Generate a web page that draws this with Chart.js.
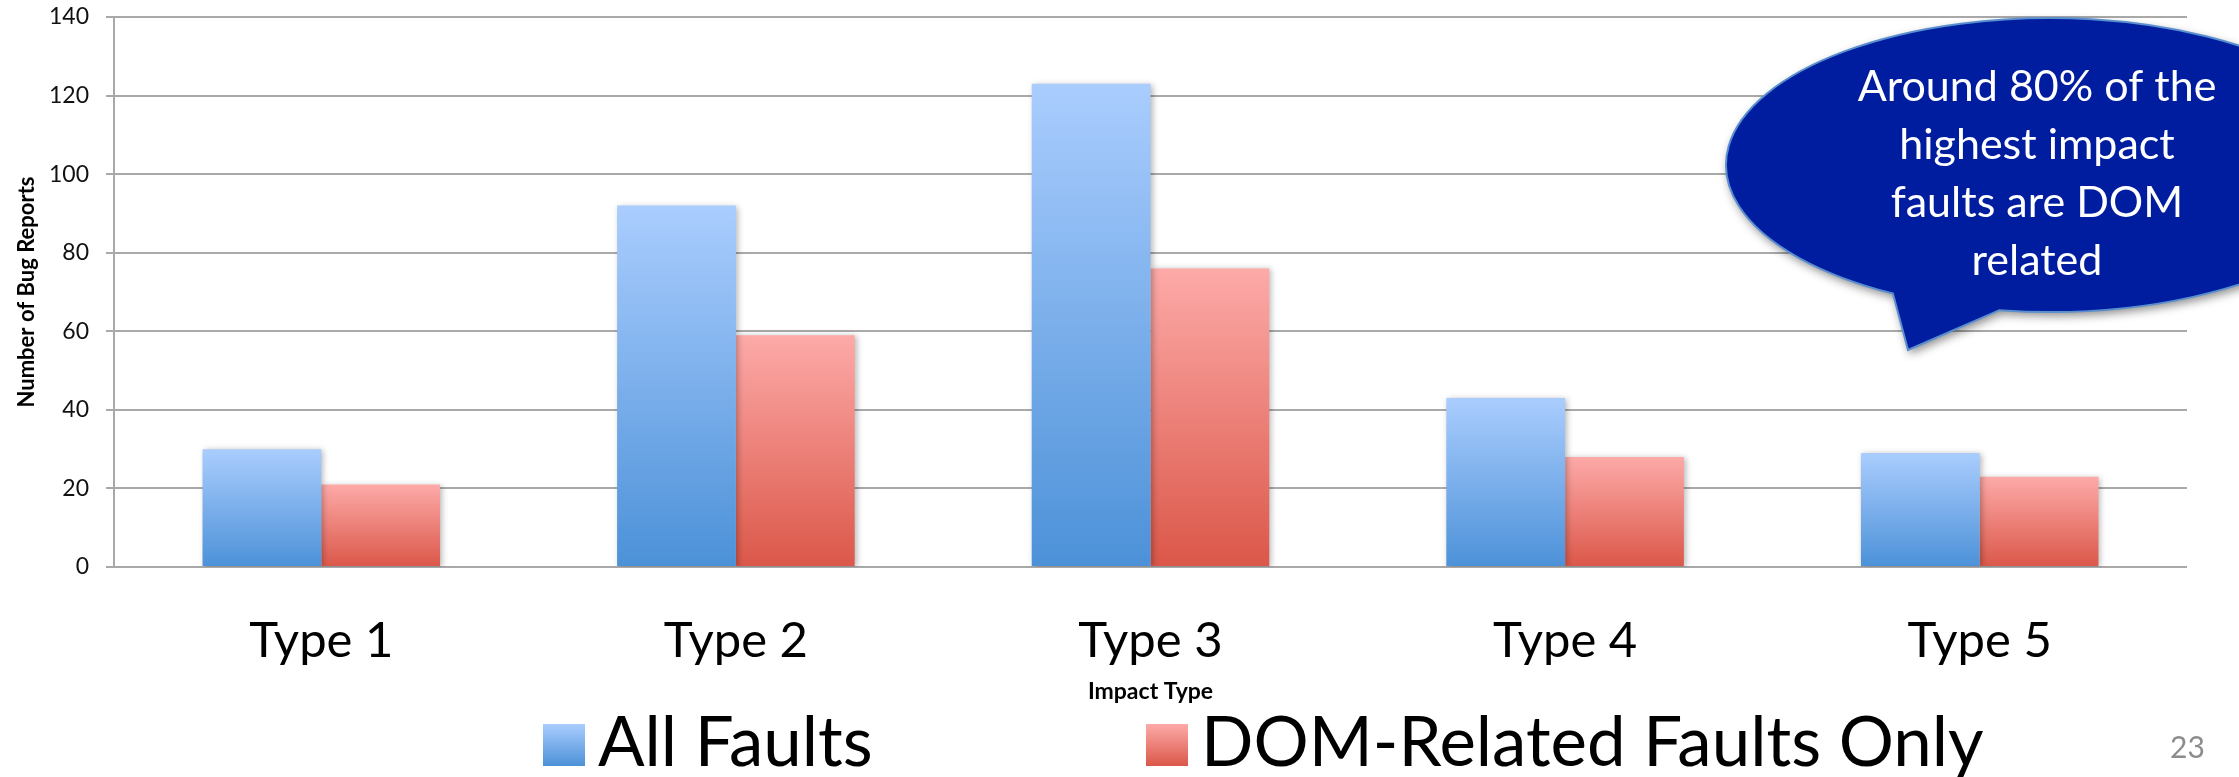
<!DOCTYPE html>
<html>
<head>
<meta charset="utf-8">
<script src="https://cdn.jsdelivr.net/npm/chart.js@4.4.1/dist/chart.umd.min.js"></script>
<style>
  html, body { margin: 0; padding: 0; background: #fff; }
  #wrap { position: relative; width: 2239px; height: 777px; overflow: hidden; }
  #chart { position: absolute; left: 0; top: 0; }
  .legend_item { position: absolute; top: 698px; display: flex; align-items: center; font-family: Lato, sans-serif; font-size: 69px; color: #000; white-space: nowrap; }
  .legend_box { width: 42px; height: 42px; margin-right: 13px; margin-top: 10px; }
  #page_num { position: absolute; left: 2170px; top: 728px; font-family: Lato, sans-serif; font-size: 30px; color: #8c8c8c; }
</style>
</head>
<body>
<div id="wrap">
  <canvas id="chart" width="2239" height="777"></canvas>
  <div id="legend"></div>
  <div id="page_num">23</div>
</div>
<script>
let impactTypes = ["Type 1", "Type 2", "Type 3", "Type 4", "Type 5"];
let allFaults = [30, 92, 123, 43, 29];
let domFaults = [21, 59, 76, 28, 23];
let seriesNames = ["All Faults", "DOM-Related Faults Only"];
let bubbleLines = ["Around 80% of the", "highest impact", "faults are DOM", "related"];

let barColors = [
  ["#aacdfe", "#4c91d8"],
  ["#fdaaa8", "#db5749"],
];
let legendLeft = [543, 1146];

let barGradient = (colors) => {
  return (context) => {
    let chart = context.chart;
    if (!chart.chartArea || context.raw === undefined) return colors[1];
    let y = chart.scales.y;
    let top = y.getPixelForValue(context.raw);
    let base = y.getPixelForValue(0);
    let g = chart.ctx.createLinearGradient(0, top, 0, base);
    g.addColorStop(0, colors[0]);
    g.addColorStop(1, colors[1]);
    return g;
  };
};

// soft shadow behind the bars
let barShadow = {
  id: "barShadow",
  beforeDatasetsDraw(chart) {
    let ctx = chart.ctx;
    ctx.save();
    ctx.shadowColor = "rgba(0,0,0,0.28)";
    ctx.shadowBlur = 6;
    ctx.shadowOffsetX = 2;
    ctx.shadowOffsetY = 1;
  },
  afterDatasetsDraw(chart) {
    chart.ctx.restore();
  },
};

// callout bubble in the top right corner
let calloutBubble = {
  id: "calloutBubble",
  afterDraw(chart) {
    let ctx = chart.ctx;
    let area = chart.chartArea;
    let cx = area.right - 137;
    let cy = area.top + 148;
    let rx = 324;
    let ry = 147;
    let a1 = (119 * Math.PI) / 180;
    let a2 = (99 * Math.PI) / 180 + Math.PI * 2;
    ctx.save();
    ctx.beginPath();
    ctx.ellipse(cx, cy, rx, ry, 0, a1, a2, false);
    ctx.lineTo(cx - 142, cy + 185);
    ctx.closePath();
    ctx.shadowColor = "rgba(0,0,0,0.45)";
    ctx.shadowBlur = 10;
    ctx.shadowOffsetX = 2;
    ctx.shadowOffsetY = 4;
    ctx.fillStyle = "#001c9f";
    ctx.fill();
    ctx.shadowColor = "transparent";
    ctx.lineWidth = 2;
    ctx.strokeStyle = "#5a8fcf";
    ctx.stroke();
    ctx.fillStyle = "#fff";
    ctx.font = "43px Lato";
    ctx.textAlign = "center";
    ctx.textBaseline = "alphabetic";
    bubbleLines.forEach((line, i) => {
      ctx.fillText(line, cx - 13, area.top + 84 + i * 58);
    });
    ctx.restore();
  },
};

let gridColor = "#a9a9a9";

let config = {
  type: "bar",
  data: {
    labels: impactTypes,
    datasets: [
      {
        label: seriesNames[0],
        data: allFaults,
        backgroundColor: barGradient(barColors[0]),
        borderWidth: 0,
        barPercentage: 1,
        categoryPercentage: 0.573,
      },
      {
        label: seriesNames[1],
        data: domFaults,
        backgroundColor: barGradient(barColors[1]),
        borderWidth: 0,
        barPercentage: 1,
        categoryPercentage: 0.573,
      },
    ],
  },
  options: {
    responsive: false,
    animation: false,
    devicePixelRatio: 1,
    layout: {
      padding: { left: 14, right: 52, top: 17, bottom: 72 },
    },
    plugins: {
      legend: { display: false },
      tooltip: { enabled: false },
    },
    scales: {
      x: {
        grid: { display: false },
        border: { display: false },
        ticks: {
          color: "#000",
          padding: 37,
          font: { family: "Lato", size: 49 },
        },
        title: {
          display: true,
          text: "Impact Type",
          color: "#000",
          padding: 0,
          font: { family: "Lato", size: 23, weight: "bold" },
        },
        afterFit: (scale) => {
          scale.height = 138;
        },
      },
      y: {
        min: 0,
        max: 140,
        grid: {
          color: gridColor,
          lineWidth: 2,
          tickLength: 8,
          tickColor: gridColor,
        },
        border: { color: gridColor, width: 2 },
        ticks: {
          stepSize: 20,
          color: "#111",
          padding: 17,
          font: { family: "Lato", size: 23 },
        },
        title: {
          display: true,
          text: "Number of Bug Reports",
          color: "#000",
          padding: 0,
          font: { family: "Lato", size: 22, weight: "bold" },
        },
        afterFit: (scale) => {
          scale.width = 100;
          scale.paddingTop = 10;
          scale.paddingBottom = 10;
        },
      },
    },
  },
  plugins: [barShadow, calloutBubble],
};

let chart = new Chart(document.getElementById("chart").getContext("2d"), config);

// legend built from the datasets
let legend = document.getElementById("legend");
chart.data.datasets.forEach((ds, i) => {
  let item = document.createElement("div");
  item.className = "legend_item";
  item.style.left = legendLeft[i] + "px";
  let box = document.createElement("span");
  box.className = "legend_box";
  box.style.background = `linear-gradient(${barColors[i][0]}, ${barColors[i][1]})`;
  let text = document.createElement("span");
  text.innerHTML = ds.label;
  item.appendChild(box);
  item.appendChild(text);
  legend.appendChild(item);
});
</script>
</body>
</html>
